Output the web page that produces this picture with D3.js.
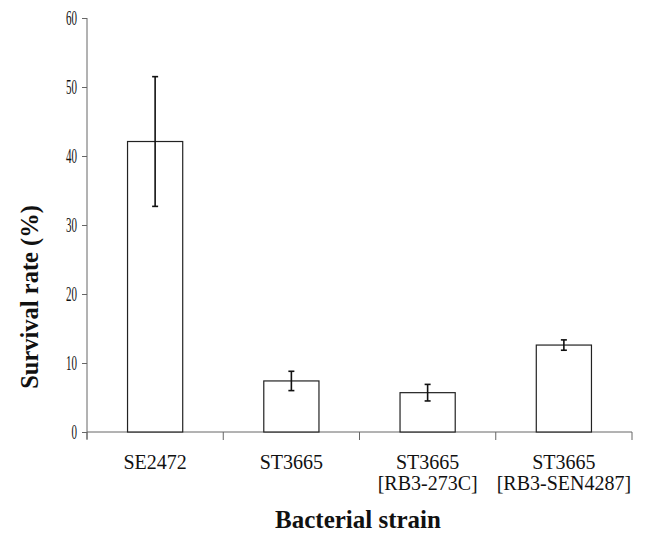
<!DOCTYPE html>
<html>
<head>
<meta charset="utf-8">
<script src="https://cdn.jsdelivr.net/npm/d3@7"></script>
<style>
  body { margin: 0; background: #fff; }
  svg { display: block; }
</style>
</head>
<body>
<script>
const width = 654;
const height = 533;

// data
const strains = ["SE2472", "ST3665", "ST3665|[RB3-273C]", "ST3665|[RB3-SEN4287]"];
const survival = [42.1, 7.4, 5.7, 12.6];
const errors = [9.4, 1.4, 1.2, 0.75];
const yTicks = [0, 10, 20, 30, 40, 50, 60];

const margin = {top: 18, left: 87, right: 22, bottom: 101};

const svg = d3.select("body")
    .append("svg")
    .attr("width", width)
    .attr("height", height);

const xScale = d3.scaleBand()
    .domain(strains)
    .range([margin.left, width - margin.right])
    .padding(0);

const yScale = d3.scaleLinear()
    .domain([0, 60])
    .range([height - margin.bottom, margin.top]);

const barW = xScale.bandwidth() * 0.405;

// y axis
const yAxis = svg.append("g")
    .attr("transform", `translate(${margin.left},0)`)
    .call(d3.axisLeft(yScale).tickValues(yTicks).tickSize(5).tickSizeOuter(0));
yAxis.select(".domain").attr("stroke", "#666").attr("d", `M0,${margin.top}V${height - margin.bottom + 7}`);
yAxis.selectAll(".tick line").attr("stroke", "#666");
yAxis.selectAll(".tick text")
    .attr("x", null)
    .attr("font-family", "Liberation Serif, serif")
    .attr("font-size", 20)
    .attr("fill", "#111")
    .attr("transform", "translate(-10,0) scale(0.55,1)");

// x axis
const xAxis = svg.append("g")
    .attr("transform", `translate(0,${yScale(0)})`);
xAxis.append("line")
    .attr("x1", margin.left).attr("x2", width - margin.right)
    .attr("stroke", "#666");
const bounds = strains.map(d => xScale(d)).concat([xScale.range()[1]]);
xAxis.selectAll("line.tk")
    .data(bounds)
    .enter()
    .append("line")
    .attr("class", "tk")
    .attr("x1", d => d).attr("x2", d => d)
    .attr("y1", 0).attr("y2", 8)
    .attr("stroke", "#666");

const labels = xAxis.selectAll("text.lab")
    .data(strains)
    .enter()
    .append("text")
    .attr("class", "lab")
    .attr("text-anchor", "middle")
    .attr("font-family", "Liberation Serif, serif")
    .attr("font-size", 20)
    .attr("fill", "#111")
    .attr("transform", d => `translate(${xScale(d) + xScale.bandwidth() / 2},0)`);
labels.each(function(d) {
    const parts = d.split("|");
    d3.select(this).selectAll("tspan")
        .data(parts)
        .enter()
        .append("tspan")
        .attr("x", 0)
        .attr("y", (p, i) => 37 + i * 20.5)
        .text(p => p);
});

// bars
svg.selectAll("rect.bar")
    .data(strains)
    .enter()
    .append("rect")
    .attr("class", "bar")
    .attr("x", d => xScale(d) + xScale.bandwidth() / 2 - barW / 2)
    .attr("y", (d, i) => yScale(survival[i]))
    .attr("width", barW)
    .attr("height", (d, i) => yScale(0) - yScale(survival[i]))
    .attr("fill", "#fff")
    .attr("stroke", "#222")
    .attr("stroke-width", 1.2);

// error bars
const eb = svg.selectAll("g.err")
    .data(strains)
    .enter()
    .append("g")
    .attr("class", "err")
    .attr("transform", d => `translate(${xScale(d) + xScale.bandwidth() / 2},0)`);
eb.append("line")
    .attr("y1", (d, i) => yScale(survival[i] + errors[i]))
    .attr("y2", (d, i) => yScale(survival[i] - errors[i]))
    .attr("stroke", "#111").attr("stroke-width", 1.6);
eb.append("line")
    .attr("x1", -3).attr("x2", 3)
    .attr("y1", (d, i) => yScale(survival[i] + errors[i]))
    .attr("y2", (d, i) => yScale(survival[i] + errors[i]))
    .attr("stroke", "#111").attr("stroke-width", 1.6);
eb.append("line")
    .attr("x1", -3).attr("x2", 3)
    .attr("y1", (d, i) => yScale(survival[i] - errors[i]))
    .attr("y2", (d, i) => yScale(survival[i] - errors[i]))
    .attr("stroke", "#111").attr("stroke-width", 1.6);

// axis titles
svg.append("text")
    .attr("transform", `translate(38,297) rotate(-90)`)
    .attr("text-anchor", "middle")
    .attr("font-family", "Liberation Serif, serif")
    .attr("font-weight", "bold")
    .attr("font-size", 24.5)
    .attr("fill", "#111")
    .text("Survival rate (%)");

svg.append("text")
    .attr("x", 358)
    .attr("y", 528)
    .attr("text-anchor", "middle")
    .attr("font-family", "Liberation Serif, serif")
    .attr("font-weight", "bold")
    .attr("font-size", 25)
    .attr("fill", "#111")
    .text("Bacterial strain");
</script>
</body>
</html>
